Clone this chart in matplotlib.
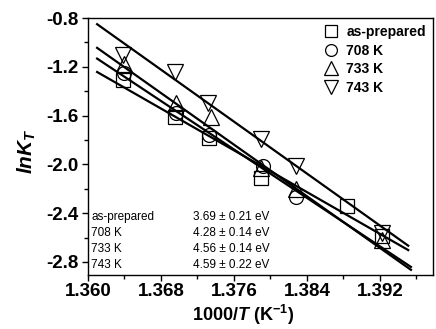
import numpy as np
import matplotlib
matplotlib.use("Agg")
import matplotlib.pyplot as plt
from matplotlib.ticker import MultipleLocator, FormatStrFormatter

plt.rcParams['font.family'] = ['Liberation Sans', 'DejaVu Sans']
plt.rcParams['axes.unicode_minus'] = False
plt.rcParams['mathtext.fontset'] = 'custom'
plt.rcParams['mathtext.rm'] = 'Liberation Sans:bold'
plt.rcParams['mathtext.it'] = 'Liberation Sans:bold:italic'
plt.rcParams['mathtext.bf'] = 'Liberation Sans:bold'

# measured points, 1000/T vs lnK_T
x_asprep = [1.3638, 1.3695, 1.3733, 1.3790, 1.3884, 1.3922]
y_asprep = [-1.31, -1.61, -1.78, -2.11, -2.34, -2.59]
x_708 = [1.3640, 1.3697, 1.3733, 1.3792, 1.3828]
y_708 = [-1.25, -1.58, -1.76, -2.01, -2.27]
x_733 = [1.3640, 1.3697, 1.3735, 1.3790, 1.3828, 1.3922]
y_733 = [-1.18, -1.50, -1.61, -2.03, -2.20, -2.62]
x_743 = [1.3638, 1.3695, 1.3731, 1.3790, 1.3828, 1.3922]
y_743 = [-1.10, -1.24, -1.50, -1.79, -2.01, -2.56]

labels = ['as-prepared', '708 K', '733 K', '743 K']
markers = ['s', 'o', '^', 'v']
msizes = [10, 10, 11.5, 11.5]

# activation energies (eV) and fitted lines
Ea = [3.69, 4.28, 4.56, 4.59]
Ea_err = [0.21, 0.14, 0.14, 0.22]
fit_x0 = 1.361
fit_y0 = [-1.242, -1.132, -1.044, -0.85]
fit_xend = [1.3951, 1.3954, 1.3954, 1.3951]
kB = 8.617e-5

xs = [x_asprep, x_708, x_733, x_743]
ys = [y_asprep, y_708, y_733, y_743]

fig = plt.figure(figsize=(4.36, 3.29), dpi=100)
ax = fig.add_axes([0.2018, 0.164, 0.791, 0.781])

handles = []
for i in range(4):
	slope = -Ea[i] / (kB * 1000)
	lx = np.array([fit_x0, fit_xend[i]])
	ax.plot(lx, fit_y0[i] + slope * (lx - fit_x0), color='black', lw=1.6, zorder=3)
	h, = ax.plot(xs[i], ys[i], linestyle='none', marker=markers[i], ms=msizes[i],
		mfc='none', mec='black', mew=0.9, label=labels[i], zorder=2)
	handles.append(h)

ax.set_xlim(1.360, 1.3978)
ax.set_ylim(-2.907, -0.8)
ax.xaxis.set_major_locator(MultipleLocator(0.008))
ax.xaxis.set_minor_locator(MultipleLocator(0.004))
ax.yaxis.set_major_locator(MultipleLocator(0.4))
ax.yaxis.set_minor_locator(MultipleLocator(0.2))
ax.xaxis.set_major_formatter(FormatStrFormatter('%.3f'))
ax.yaxis.set_major_formatter(FormatStrFormatter('%.1f'))
ax.tick_params(which='major', direction='out', length=4, width=1, labelsize=13.5, pad=3)
ax.tick_params(axis='x', which='major', pad=2)
ax.tick_params(which='minor', direction='out', length=3, width=1)
for lab in ax.get_xticklabels() + ax.get_yticklabels():
	lab.set_fontweight('bold')
for s in ax.spines.values():
	s.set_linewidth(1.0)

leg = ax.legend(handles=handles, loc='upper right', frameon=False,
	prop={'weight': 'bold', 'size': 10}, handletextpad=0.5, labelspacing=0.33,
	borderaxespad=0.1, handlelength=1.2, markerscale=0.85)

rows_y = [0.226, 0.163, 0.101, 0.039]
for i in range(4):
	ax.text(0.009, rows_y[i], labels[i], transform=ax.transAxes, fontsize=8.5,
		va='center', ha='left')
	ax.text(0.304, rows_y[i], '%.2f \u00b1 %.2f eV' % (Ea[i], Ea_err[i]),
		transform=ax.transAxes, fontsize=8.5, va='center', ha='left')

fig.text(0.557, 0.042, r'1000/$T$ (K$^{\mathbf{-1}}$)', ha='center', va='center',
	fontsize=13, fontweight='bold')
fig.text(0.062, 0.54, r'$lnK_T$', ha='center', va='center', rotation=90,
	fontsize=15)

fig.savefig('out.png', dpi=100)
